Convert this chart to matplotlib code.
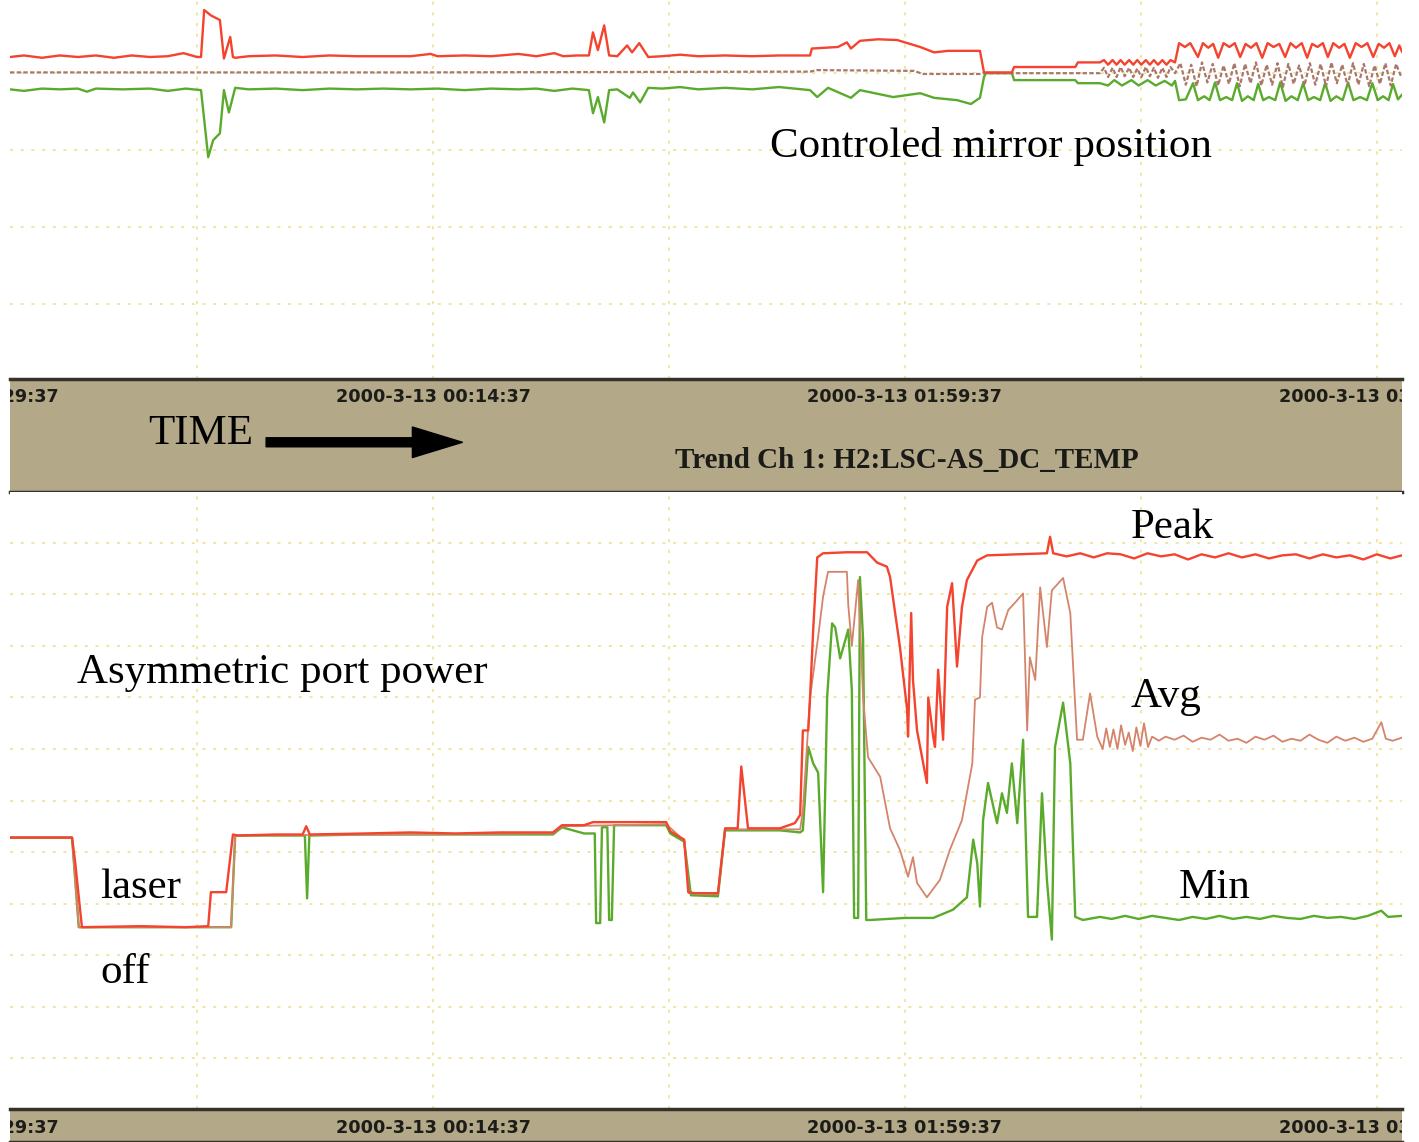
"""Trend chart: controlled mirror position and asymmetric port power."""
import matplotlib

matplotlib.use("Agg")
import matplotlib.pyplot as plt

# time axis in minutes after 2000-3-12 22:29:37
tick_times = [0, 105, 210, 315]
tick_labels = ["2000-3-12 22:29:37", "2000-3-13 00:14:37",
               "2000-3-13 01:59:37", "2000-3-13 03:44:37"]
grid_times = [52.5, 105, 157.5, 210, 262.5, 315]
mirror_grid = [0, -10, -20, -30]
power_grid = [0, 5, 10, 15, 20, 25, 30, 35, 40, 45, 50]
t_range = (10.9, 320.6)
channel = "Trend Ch 1: H2:LSC-AS_DC_TEMP"

# upper panel, mirror position (max / mean / min)
mirror_max = [
    (10.9, 2.1), (14, 2.3), (18, 2.0), (22, 2.3), (26, 2.1), (30, 2.3), (34, 2.0),
    (38, 2.3), (42, 2.1), (46, 2.2), (49.5, 2.6), (52.5, 2.1), (53.4, 2.1),
    (54.1, 8.2), (55.6, 7.5), (57.6, 6.9), (58.5, 1.9), (59.9, 4.7), (60.5, 2.1),
    (61.0, 2.0), (64, 2.2), (70, 2.3), (76, 2.1), (82, 2.3), (88, 2.2), (94, 2.2),
    (100, 2.2), (104.5, 2.5), (106, 2.2), (112, 2.3), (118, 2.2), (124, 2.5),
    (128, 2.2), (132, 2.6), (134, 2.2), (137, 2.3), (139.7, 2.3),
    (140.6, 5.3), (141.7, 3.0), (143.1, 6.2), (144.2, 2.3), (146, 2.2),
    (148.2, 3.6), (149.3, 2.7), (150.9, 3.9), (152.9, 2.1), (156, 2.2), (160, 2.4),
    (164, 2.2), (170, 2.3), (176, 2.2), (182, 2.3), (188.9, 2.3),
    (189.3, 3.2), (195.1, 3.4), (197.1, 4.0), (198.0, 3.2), (200.0, 4.2),
    (204, 4.4), (208.3, 4.3), (213.4, 3.4), (216.5, 2.7), (219.6, 2.9),
    (224, 2.9), (226.7, 2.9), (227.6, 0.1), (233.8, 0.1), (234.3, 0.8),
    (247.9, 0.8), (248.5, 1.4), (252.1, 1.4), (253.4, 1.4),
    (254.3, 1.7), (255.2, 1.1), (256.2, 1.7), (257.1, 1.1), (258.0, 1.7),
    (258.9, 1.1), (259.9, 1.7), (260.8, 1.1), (261.7, 1.7), (262.6, 1.1),
    (263.6, 1.7), (264.5, 1.1), (265.4, 1.7), (266.3, 1.1), (267.3, 1.7),
    (268.2, 1.1), (269.1, 1.7), (270.1, 1.4),
    (271.0, 3.9), (272.3, 3.4), (273.5, 3.9), (275.2, 2.1), (276.3, 3.9),
    (277.5, 3.3), (278.6, 3.8), (279.7, 2.0), (280.9, 3.9), (282.2, 3.4),
    (283.4, 3.9), (284.6, 2.1), (285.8, 3.8), (287.0, 3.3), (288.2, 3.9),
    (289.5, 2.0), (290.7, 3.9), (292.0, 3.4), (293.3, 3.8), (294.6, 2.1),
    (295.8, 3.9), (297.0, 3.3), (298.3, 3.9), (299.5, 2.0), (300.6, 3.8),
    (301.8, 3.4), (303.0, 3.9), (304.1, 2.1), (305.3, 3.9), (306.6, 3.3),
    (307.8, 3.8), (309.0, 2.0), (310.3, 3.9), (311.6, 3.4), (312.9, 3.9),
    (314.2, 2.1), (315.4, 3.8), (316.6, 3.3), (317.8, 3.9), (319.0, 2.2),
    (320.0, 3.6), (320.6, 2.8),
]
mirror_mean = [
    (10.9, 0.1), (100, 0.1), (188.9, 0.2), (190.5, 0.4), (212, 0.3), (214, -0.1),
    (226.7, -0.1), (227.6, 0.0), (252.1, 0.0), (253.4, 0.0),
    (254.3, 0.7), (255.2, -0.5), (256.2, 0.7), (257.1, -0.5), (258.0, 0.8),
    (258.9, -0.4), (259.9, 0.7), (260.8, -0.5), (261.7, 0.6), (262.6, -0.5),
    (263.6, 0.8), (264.5, -0.4), (265.4, 0.7), (266.3, -0.6), (267.3, 0.7),
    (268.2, -0.5), (269.1, 0.8), (270.1, 0.0),
    (271.3, 1.3), (272.5, -1.5), (273.7, 1.1), (274.9, -1.7), (276.1, 1.4),
    (277.3, -1.2), (278.5, 1.2), (279.7, -1.6), (280.9, 1.0), (282.1, -1.4),
    (283.3, 1.3), (284.5, -1.7), (285.7, 1.2), (286.9, -1.3), (288.1, 1.4),
    (289.3, -1.6), (290.5, 1.1), (291.7, -1.5), (292.9, 1.3), (294.1, -1.8),
    (295.3, 1.2), (296.5, -1.4), (297.7, 1.0), (298.9, -1.6), (300.1, 1.3),
    (301.3, -1.5), (302.5, 1.2), (303.7, -1.7), (304.9, 1.4), (306.1, -1.3),
    (307.3, 1.1), (308.5, -1.6), (309.7, 1.3), (310.9, -1.5), (312.1, 1.2),
    (313.3, -1.7), (314.5, 1.0), (315.7, -1.4), (316.9, 1.3), (318.1, -1.6),
    (319.3, 1.2), (320.5, -0.6),
]
mirror_min = [
    (10.9, -2.1), (14, -2.3), (18, -2.0), (22, -2.1), (26, -2.0), (28, -2.4),
    (30, -2.0), (36, -2.1), (42, -2.0), (46, -2.3), (50, -2.0), (53.4, -2.2),
    (55.0, -10.9), (56.1, -8.7), (57.6, -7.8), (58.5, -2.2), (59.6, -5.1),
    (61.0, -1.9), (64, -2.1), (70, -2.0), (76, -2.2), (82, -2.0), (88, -2.1),
    (94, -2.0), (100, -2.1), (106, -2.0), (112, -2.2), (118, -2.0), (124, -2.1),
    (128, -2.0), (132, -2.3), (136, -2.0), (139.7, -2.2),
    (140.6, -5.2), (141.7, -3.1), (143.1, -6.4), (144.2, -2.2), (146, -2.1),
    (148.8, -3.2), (149.5, -2.5), (151.1, -3.8), (152.9, -1.9), (156, -2.0),
    (160, -1.8), (164, -2.1), (170, -1.9), (176, -2.1), (182, -1.8),
    (188.9, -2.2), (190.5, -3.1), (192.9, -1.9), (198.0, -3.2), (200.0, -2.2),
    (207.4, -3.1), (213.4, -2.6), (216.5, -3.2), (221.6, -3.5), (224.7, -4.0),
    (226.7, -3.2), (227.6, -0.5), (228, 0.0), (233.8, 0.0), (234.3, -0.9),
    (247.9, -0.9), (248.5, -1.3), (252.1, -1.3), (253.4, -1.3),
    (255.2, -1.6), (256.6, -0.9), (258.3, -1.6), (260.4, -0.9), (262.0, -1.6),
    (264.0, -0.9), (265.8, -1.6), (267.8, -1.0), (269.4, -1.6), (270.1, -1.0),
    (271.0, -3.5), (272.5, -3.4), (274.1, -1.3), (275.2, -3.5), (276.6, -3.0),
    (277.8, -3.5), (279.0, -1.2), (280.1, -3.5), (281.5, -3.1), (282.8, -3.5),
    (283.9, -1.3), (285.0, -3.6), (286.3, -3.0), (287.6, -3.5), (288.6, -1.4),
    (289.7, -3.5), (291.0, -3.1), (292.4, -3.5), (293.5, -1.2), (294.7, -3.6),
    (296.0, -3.0), (297.4, -3.5), (298.6, -1.3), (299.7, -3.5), (301.0, -3.1),
    (302.4, -3.5), (303.5, -1.3), (304.7, -3.6), (306.0, -3.0), (307.4, -3.5),
    (308.6, -1.2), (309.8, -3.5), (311.3, -3.1), (312.8, -3.5), (314.0, -1.3),
    (315.2, -3.5), (316.4, -3.0), (317.6, -3.5), (318.6, -1.4), (319.7, -3.4),
    (320.6, -2.8),
]

# lower panel, asymmetric port power (peak / avg / min)
power_peak = [
    (10.9, 21.4), (24.7, 21.4), (25.4, 19.0), (26.9, 12.7), (40, 12.8), (50, 12.7),
    (55.0, 12.8), (55.6, 16.1), (59.0, 16.1), (60.5, 21.7), (61.6, 21.6),
    (70, 21.7), (76.0, 21.7), (76.8, 22.5), (77.6, 21.7), (90, 21.8), (100, 21.9),
    (110, 21.8), (120, 21.9), (131.7, 21.9), (133.7, 22.6), (138.6, 22.6),
    (140.6, 22.9), (145.7, 22.9), (156.9, 22.9), (157.8, 22.0), (160.9, 21.2),
    (161.8, 16.1), (163.3, 16.0), (168.4, 16.0), (170.0, 22.3), (172.8, 22.3),
    (173.6, 28.3), (175.1, 22.3), (182.2, 22.3), (185.5, 22.8), (186.7, 23.6),
    (187.3, 31.8), (188.5, 31.8), (188.9, 35.0), (189.6, 41.6), (190.5, 48.6),
    (191.8, 49.0), (197.1, 49.1), (201.6, 49.1), (203.8, 48.1), (206.0, 47.7),
    (206.7, 46.7), (208.9, 39.9), (210.5, 33.8), (210.7, 31.2), (211.4, 43.2),
    (211.8, 36.7), (212.7, 31.8), (214.9, 26.7), (215.2, 35.0), (216.3, 31.2),
    (216.7, 30.2), (217.4, 37.7), (218.5, 30.9), (219.4, 43.8), (220.5, 46.1),
    (221.6, 38.0), (222.7, 43.8), (223.8, 46.4), (226.1, 48.3), (228.3, 48.8),
    (235, 48.9), (241.6, 49.0), (242.3, 50.6), (243.0, 49.0), (246, 48.7),
    (249, 49.0), (252, 48.6), (255, 49.0), (258, 48.9), (261, 48.5), (264, 49.0),
    (267, 48.7), (270, 48.9), (273, 48.4), (276, 48.9), (279, 48.6), (282, 49.0),
    (285, 48.6), (288, 48.9), (291, 48.5), (294, 48.8), (297, 48.9), (300, 48.5),
    (303, 48.9), (306, 48.6), (309, 48.8), (312, 48.4), (315, 48.9), (318, 48.5),
    (320.6, 48.8),
]
power_avg = [
    (10.9, 21.4), (24.7, 21.4), (26.2, 12.7), (60.1, 12.7), (61.0, 21.6),
    (131.7, 21.8), (133.7, 22.5), (156.9, 22.7), (160.9, 21.1), (162.0, 16.0),
    (168.4, 15.9), (170.0, 22.2), (186.7, 22.2), (187.3, 24.0), (188.9, 35.0),
    (190.7, 40.9), (191.8, 44.8), (192.9, 47.2), (197.1, 47.2), (197.4, 44.0),
    (198.2, 40.0), (199.6, 46.4), (200.7, 35.0), (201.8, 29.2), (204.5, 27.3),
    (206.7, 22.3), (208.9, 20.2), (210.7, 17.6), (211.8, 19.5), (212.7, 17.0),
    (214.9, 15.6), (217.8, 17.3), (220.0, 20.2), (222.7, 23.1), (225.0, 28.6),
    (225.6, 34.8), (226.7, 35.0), (227.2, 40.9), (228.3, 43.8), (229.4, 44.2),
    (230.5, 41.8), (231.6, 41.6), (233.0, 43.5), (234.5, 44.2), (236.3, 45.1),
    (237.2, 31.8), (237.8, 38.9), (239.0, 36.7), (240.1, 45.7), (241.6, 39.9),
    (242.7, 45.4), (245.2, 46.6), (246.8, 43.2), (248.3, 30.9), (249.6, 30.9),
    (251.2, 35.4), (252.8, 31.2), (254.0, 30.0), (254.8, 32.0), (255.6, 30.2),
    (256.4, 31.9), (257.3, 30.0), (258.1, 32.3), (259.0, 30.4), (259.8, 31.6),
    (260.7, 29.8), (261.5, 32.1), (262.4, 30.3), (263.2, 32.5), (264.1, 30.2),
    (265.0, 31.2), (266.5, 30.8), (268, 31.2), (270, 30.9), (272, 31.3),
    (274, 30.7), (276, 31.1), (278, 30.9), (280, 31.4), (282, 30.8), (284, 31.0),
    (286, 30.6), (288, 31.2), (290, 30.9), (292, 31.3), (294, 30.7), (296, 31.0),
    (298, 30.8), (300, 31.4), (302, 30.9), (304, 30.6), (306, 31.2), (308, 30.8),
    (310, 31.1), (312, 30.7), (314, 31.0), (316, 32.6), (317, 31.0), (318.5, 30.8),
    (320.6, 31.1),
]
power_min = [
    (10.9, 21.4), (24.7, 21.4), (26.2, 12.7), (60.1, 12.7), (61.0, 21.6),
    (70, 21.6), (76.5, 21.6), (77.0, 15.5), (77.5, 21.6), (90, 21.7), (110, 21.7),
    (131.7, 21.7), (133.7, 22.4), (138.6, 21.8), (141.0, 21.8), (141.3, 13.1),
    (142.2, 13.1), (142.6, 22.4), (143.8, 22.4), (144.2, 13.4), (144.8, 13.4),
    (145.3, 22.6), (156.9, 22.6), (157.8, 21.8), (160.9, 21.0), (162.4, 15.8),
    (168.4, 15.7), (170.0, 22.1), (182.2, 22.1), (186.7, 21.9), (187.3, 22.1),
    (188.5, 30.2), (189.6, 28.6), (190.7, 27.7), (191.8, 16.1), (192.7, 35.0),
    (193.8, 42.2), (194.5, 41.8), (195.6, 38.8), (197.4, 41.6), (198.2, 35.7),
    (198.7, 13.6), (199.6, 13.6), (200.0, 46.7), (200.7, 40.6), (201.4, 13.4),
    (202.3, 13.4), (210, 13.6), (216.3, 13.6), (220.7, 14.4), (223.8, 15.6),
    (225.2, 21.2), (226.1, 18.9), (226.7, 14.7), (227.4, 23.1), (228.5, 26.7),
    (230.5, 22.8), (231.6, 25.7), (232.7, 23.8), (233.8, 28.6), (235.0, 22.8),
    (236.3, 30.9), (237.4, 13.7), (239.4, 13.7), (240.5, 25.7), (241.6, 17.3),
    (242.7, 11.5), (243.4, 30.2), (245.2, 34.5), (246.8, 28.6), (247.9, 13.7),
    (249.6, 13.4), (253.4, 13.7), (256, 13.5), (259, 13.8), (262, 13.5),
    (265, 13.8), (268, 13.6), (271, 13.4), (274, 13.7), (277, 13.5), (280, 13.8),
    (283, 13.5), (286, 13.7), (289, 13.5), (292, 13.8), (295, 13.6), (298, 13.5),
    (301, 13.8), (304, 13.6), (307, 13.7), (310, 13.5), (313, 13.8), (316, 14.3),
    (317.5, 13.7), (320.6, 13.8),
]

RED = "#f4432e"
GREEN = "#5aab2c"
AVG = "#d4846b"
MEAN = "#a97868"
GRID = "#ecdf8a"
BAND = "#b3a888"
SERIF = ["Liberation Serif", "DejaVu Serif"]

W, H = 1419, 1142


def frame(top, bottom):
    return [10 / W, (H - bottom) / H, 1392 / W, (bottom - top) / H]


def unzip(points):
    return [p[0] for p in points], [p[1] for p in points]


def style_panel(ax, rows, ylim):
    ax.set_xlim(*t_range)
    ax.set_ylim(*ylim)
    ax.set_xticks(grid_times)
    ax.set_yticks(rows)
    ax.tick_params(length=0, labelbottom=False, labelleft=False)
    ax.grid(True, color=GRID, linestyle=(0, (2, 5)), linewidth=1.1)
    for s in ax.spines.values():
        s.set_visible(False)


def style_band(ax, label_y):
    ax.set_xlim(*t_range)
    ax.set_ylim(0, 1)
    ax.set_facecolor(BAND)
    ax.set_xticks([])
    ax.set_yticks([])
    for side in ("left", "right"):
        ax.spines[side].set_visible(False)
    for side in ("top", "bottom"):
        ax.spines[side].set_color("#34322a")
        ax.spines[side].set_linewidth(2.5)
    # time stamps are clipped at the band edges, as on the recorder strip
    for t, lab in zip(tick_times, tick_labels):
        ax.text(t, label_y, lab, ha="center", va="center", fontsize=12.7,
                fontweight="bold", color="#1c1c18", clip_on=True)


fig = plt.figure(figsize=(W / 100, H / 100), dpi=100)
ax_top = fig.add_axes(frame(0, 379))
band1 = fig.add_axes(frame(379, 492))
ax_low = fig.add_axes(frame(492, 1109))
band2 = fig.add_axes(frame(1109, 1142))

style_panel(ax_top, mirror_grid, (-39.7, 9.5))
style_panel(ax_low, power_grid, (-4.95, 54.95))
style_band(band1, 0.84)
style_band(band2, 0.42)

kw = dict(linewidth=1.7, solid_joinstyle="round")
ax_top.plot(*unzip(mirror_min), color=GREEN, **kw)
ax_top.plot(*unzip(mirror_mean), color=MEAN, linewidth=1.6, linestyle=(0, (2, 1)))
ax_top.plot(*unzip(mirror_max), color=RED, **kw)

ax_low.plot(*unzip(power_min), color=GREEN, **kw)
ax_low.plot(*unzip(power_avg), color=AVG, linewidth=1.3)
ax_low.plot(*unzip(power_peak), color=RED, **kw)

ax_top.text(180.0, -10.9, "Controled mirror position", family=SERIF, fontsize=31)
ax_low.text(25.8, 36.4, "Asymmetric port power", family=SERIF, fontsize=31)
ax_low.text(30.9, 15.5, "laser", family=SERIF, fontsize=31)
ax_low.text(30.9, 7.3, "off", family=SERIF, fontsize=31)
ax_low.text(260.3, 50.5, "Peak", family=SERIF, fontsize=31)
ax_low.text(260.3, 34.1, "Avg", family=SERIF, fontsize=31)
ax_low.text(271.0, 15.5, "Min", family=SERIF, fontsize=31)

band1.text(41.6, 0.425, "TIME", family=SERIF, fontsize=31)
band1.annotate("", xy=(0.325, 0.44), xytext=(0.184, 0.44), xycoords="axes fraction",
               arrowprops=dict(facecolor="black", edgecolor="black", width=6.5,
                               headwidth=22, headlength=36, shrink=0))
band1.text(158.9, 0.212, channel, family=SERIF, fontsize=21, fontweight="bold",
           color="#1a1a16")

fig.savefig("out.png", dpi=100)
plt.close(fig)
